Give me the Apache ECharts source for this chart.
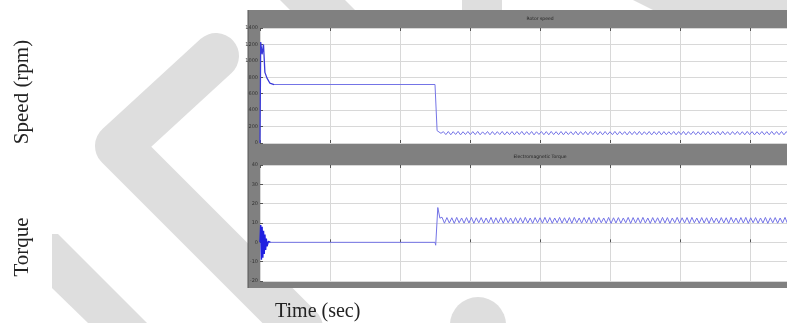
<!DOCTYPE html>
<html><head><meta charset="utf-8">
<script src="https://cdn.jsdelivr.net/npm/echarts@6/dist/echarts.min.js"></script>
<style>html,body{margin:0;padding:0;background:#fff}#c{width:787px;height:323px}</style>
</head><body><div id="c"></div><script>
// ---- data ----
const panelTitles = ['Rotor speed', 'Electromagnetic Torque'];
const axisTitles = ['Speed (rpm)', 'Torque', 'Time (sec)'];
const timeRange = [0, 8, 1];
const speedRange = [0, 1400, 200];
const torqueRange = [-20, 40, 10];

const speedStartT = [0, 0.01, 0.03, 0.05, 0.07, 0.1, 0.14, 0.2];
const speedStartV = [0, 1230, 1080, 1200, 860, 790, 730, 712];
const speedStepT = [0.2, 2.5, 2.53];
const speedStepV = [712, 712, 150];
const speedRippleStart = 2.55;
const rippleStep = 0.035;
const speedRipple = [
150,118,138,102,140,100,138,104,141,99,
137,103,140,101,139,102,141,100,136,104,
140,100,139,101,138,103,141,99,137,102,
140,100,139,103,141,100,138,102,140,99,
137,104,140,101,139,100,141,102,138,101,
140,100,139,103,137,101,141,99,138,102,
140,100,139,103,141,101,138,100,140,102,
137,101,141,100,139,103,138,99,140,102,
139,101,141,100,137,103,140,99,138,102,
141,100,139,101,137,104,140,100,139,102,
141,99,138,103,140,101,137,100,141,102,
139,101,138,103,140,99,141,102,137,100,
139,103,140,101,138,100,141,102,139,99,
137,103,140,101,138,100,141,102,139,101,
140,100,138,103,141,99];

const torqueStartT = [0, 0.01, 0.02, 0.03, 0.04, 0.05, 0.06, 0.07, 0.08, 0.09, 0.1, 0.12, 0.15];
const torqueStartV = [0, 9, -9, 8, -8, 6, -6, 4, -4, 2, -2, 0.5, 0];
const torqueStepT = [0.15, 2.5, 2.51, 2.54, 2.57];
const torqueStepV = [0, 0, -1.5, 18, 12.5];
const torqueRippleStart = 2.6;
const torqueRipple = [
13.0,9.9,12.8,10.0,12.7,9.8,12.9,10.1,12.6,9.9,
12.8,10.0,12.9,9.8,12.7,10.1,12.8,9.9,12.6,10.0,
12.9,9.8,12.7,10.0,12.8,9.9,12.9,10.1,12.6,9.8,
12.8,10.0,12.7,9.9,12.9,10.0,12.6,9.8,12.8,10.1,
12.7,9.9,12.9,10.0,12.8,9.8,12.6,10.1,12.9,9.9,
12.7,10.0,12.8,9.8,12.9,10.1,12.6,9.9,12.8,10.0,
12.9,9.8,12.7,10.0,12.8,10.1,12.6,9.9,12.9,9.8,
12.7,10.0,12.8,9.9,12.6,10.1,12.9,9.8,12.8,10.0,
12.7,9.9,12.9,10.0,12.6,9.8,12.8,10.1,12.7,9.9,
12.9,10.0,12.8,9.8,12.6,10.1,12.9,9.9,12.7,10.0,
12.8,9.8,12.9,10.1,12.6,9.9,12.8,10.0,12.7,9.8,
12.9,10.1,12.6,9.9,12.8,10.0,12.7,9.8,12.9,10.1,
12.6,9.9,12.8,10.0,12.9,9.8,12.7,10.1,12.8,9.9,
12.6,10.0,12.9,9.8,12.7,10.1,12.8,9.9,12.6,10.0,
12.9,9.8,12.7,10.0,12.8,9.9];

// ---- build ----
const zip = (t, v) => t.map((x, i) => [x, v[i]]);
const rip = (t0, v) => v.map((y, i) => [+(t0 + i * rippleStep).toFixed(4), y]);
const speedMain = zip(speedStepT, speedStepV).concat(rip(speedRippleStart, speedRipple));
const torqueMain = zip(torqueStepT, torqueStepV).concat(rip(torqueRippleStart, torqueRipple));

const WM = '#dedede';
const FRAME = '#808080';
const GRIDC = '#d8d8d8';
const TICKC = '#555';

function xAx(gi, pos) {
  return {
    type: 'value', gridIndex: gi, position: pos, min: timeRange[0], max: timeRange[1], interval: timeRange[2],
    axisLine: { show: false }, axisLabel: { show: false },
    axisTick: { show: true, inside: true, length: 3, lineStyle: { color: TICKC } },
    splitLine: { show: pos === 'bottom', lineStyle: { color: GRIDC, width: 1 } }
  };
}
function yAx(gi, r) {
  return {
    type: 'value', gridIndex: gi, min: r[0], max: r[1], interval: r[2],
    axisLine: { show: false },
    axisTick: { show: true, inside: true, length: 3, lineStyle: { color: TICKC } },
    axisLabel: { show: true, fontSize: 5, color: '#333', margin: 2, fontFamily: 'DejaVu Sans', formatter: v => String(v) },
    splitLine: { show: true, lineStyle: { color: GRIDC, width: 1 } }
  };
}

const chart = echarts.init(document.getElementById('c'), null, { renderer: 'canvas' });
chart.setOption({
  animation: false,
  backgroundColor: '#ffffff',
  grid: [
    { left: 260, width: 560, top: 28, height: 115, show: true, backgroundColor: '#ffffff', borderWidth: 0, containLabel: false, outerBoundsMode: 'none' },
    { left: 260, width: 560, top: 165, height: 116, show: true, backgroundColor: '#ffffff', borderWidth: 0, containLabel: false, outerBoundsMode: 'none' }
  ],
  xAxis: [xAx(0, 'bottom'), xAx(1, 'bottom'), xAx(0, 'top'), xAx(1, 'top')],
  yAxis: [yAx(0, speedRange), yAx(1, torqueRange)],
  series: [
    { type: 'line', xAxisIndex: 0, yAxisIndex: 0, data: speedMain, showSymbol: false, lineStyle: { color: '#7474e6', width: 1 } },
    { type: 'line', xAxisIndex: 0, yAxisIndex: 0, data: zip(speedStartT, speedStartV), showSymbol: false, lineStyle: { color: '#3a3ad8', width: 1.3 } },
    { type: 'line', xAxisIndex: 1, yAxisIndex: 1, data: torqueMain, showSymbol: false, lineStyle: { color: '#7474e6', width: 1 } },
    { type: 'line', xAxisIndex: 1, yAxisIndex: 1, data: zip(torqueStartT, torqueStartV), showSymbol: false, lineStyle: { color: '#2020e0', width: 1.5 } }
  ],
  graphic: [
    // watermark
    { type: 'polyline', z: -30, shape: { points: [[216, 56], [118, 146], [300, 328]] }, style: { stroke: WM, lineWidth: 46, lineCap: 'round', lineJoin: 'round', fill: null } },
    { type: 'polygon', z: -30, shape: { points: [[52, 234], [58, 234], [147, 323], [88, 323], [52, 288]] }, style: { fill: WM } },
    { type: 'polygon', z: -30, shape: { points: [[280, 0], [345, 0], [360, 15], [295, 15]] }, style: { fill: WM } },
    { type: 'rect', z: -30, shape: { x: 462, y: 0, width: 40, height: 14 }, style: { fill: WM } },
    { type: 'polygon', z: -30, shape: { points: [[633, 0], [787, 0], [787, 14], [661, 14]] }, style: { fill: WM } },
    { type: 'circle', z: -30, shape: { cx: 478, cy: 325, r: 28 }, style: { fill: WM } },
    // scope frame
    { type: 'rect', z: -20, shape: { x: 248, y: 10, width: 600, height: 278 }, style: { fill: FRAME } },
    { type: 'line', z: -19, shape: { x1: 248, y1: 10, x2: 248, y2: 288 }, style: { stroke: '#555', lineWidth: 1 } },
    { type: 'text', z: 5, style: { text: panelTitles[0], x: 540, y: 19, align: 'center', verticalAlign: 'middle', fontSize: 4.5, fill: '#222', fontFamily: 'DejaVu Sans' } },
    { type: 'text', z: 5, style: { text: panelTitles[1], x: 540, y: 157, align: 'center', verticalAlign: 'middle', fontSize: 4.5, fill: '#222', fontFamily: 'DejaVu Sans' } },
    // outer labels
    { type: 'text', z: 5, rotation: Math.PI / 2, x: 22, y: 92, style: { text: axisTitles[0], align: 'center', verticalAlign: 'middle', fontSize: 21, fill: '#222', fontFamily: 'Liberation Serif' } },
    { type: 'text', z: 5, rotation: Math.PI / 2, x: 22, y: 247, style: { text: axisTitles[1], align: 'center', verticalAlign: 'middle', fontSize: 21, fill: '#222', fontFamily: 'Liberation Serif' } },
    { type: 'text', z: 5, x: 275, y: 312, style: { text: axisTitles[2], align: 'left', verticalAlign: 'middle', fontSize: 20, fill: '#222', fontFamily: 'Liberation Serif' } }
  ]
});
</script></body></html>
